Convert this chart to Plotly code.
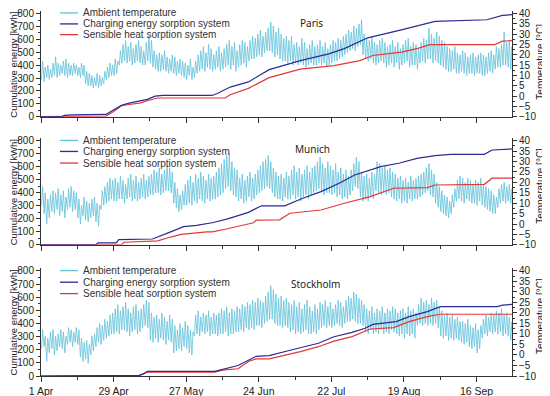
import pandas as pd
import plotly.graph_objects as go

START = pd.Timestamp("2013-04-01")

# ---------------- Data ----------------
# Daily max / min ambient temperature [°C], 1 Apr .. 30 Sep (183 days)
paris_high = [17, 14, 15, 13, 16,
              19, 16, 15, 17, 18, 16, 15,
              16, 15, 14, 16, 15,
              12, 11, 10, 9, 11, 10, 9, 12,
              14, 16, 15, 18, 17,
              22, 25, 27, 24, 26, 23, 25, 27, 24, 22,
              26, 29, 27, 22, 20,
              21, 20, 22, 19, 18, 20, 19, 17, 18, 17,
              16, 15, 18, 14, 17,
              20, 22, 24, 21, 25, 23, 20, 22, 24, 21,
              23, 25, 27, 24, 26, 22, 25, 27, 26, 24,
              27, 29, 28, 30, 32, 29, 31, 33,
              36, 34, 31, 33, 30, 28, 29,
              27, 29, 25, 26, 24, 28, 26, 23, 25, 27, 24,
              25, 27, 24, 26, 23, 25, 27, 26, 28, 27, 29,
              30, 32, 31, 34, 33, 35, 37,
              30, 28, 27, 29, 26, 25, 27, 28, 26, 24,
              25, 27, 24, 26, 23, 25, 27, 28, 24, 26, 25, 23, 26, 28, 27,
              33, 30, 28, 31, 29, 27, 26, 24,
              23, 22, 24, 21, 20, 22, 21, 19, 20, 21, 19, 20,
              21, 20, 19, 21, 22, 20,
              24, 23, 25, 31, 26, 27, 24, 22]
paris_low = [8, 7, 9, 8, 9,
             10, 9, 10, 11, 10, 9, 10,
             10, 11, 10, 9, 10,
             6, 5, 5, 4, 5, 4, 5, 6,
             8, 9, 10, 10, 11,
             15, 16, 17, 16, 17, 15, 16, 17, 16, 15,
             15, 17, 16, 14, 13,
             12, 12, 13, 12, 11, 12, 11, 10, 11, 10,
             9, 8, 10, 8, 9,
             11, 12, 13, 12, 14, 13, 12, 13, 14, 12,
             13, 14, 15, 13, 15, 12, 14, 15, 16, 14,
             17, 18, 18, 19, 20, 19, 21, 22,
             22, 21, 19, 20, 18, 17, 17,
             16, 17, 15, 16, 15, 16, 15, 14, 15, 16, 15,
             15, 16, 15, 16, 14, 15, 16, 17, 17, 18, 19,
             20, 21, 22, 23, 22, 24, 25,
             20, 18, 17, 18, 16, 15, 16, 17, 16, 14,
             15, 16, 14, 16, 13, 15, 16, 17, 14, 15, 15, 13, 16, 17, 16,
             18, 18, 16, 17, 16, 15, 14, 13,
             12, 12, 13, 11, 11, 12, 11, 10, 11, 11, 10, 11,
             11, 10, 10, 11, 12, 11,
             13, 14, 14, 15, 15, 14, 13, 12]

munich_high = [18, 15, 12, 14, 16,
               15, 17, 14, 16, 13,
               17, 18, 16, 15,
               12, 9, 13, 11, 10, 12, 13, 10, 9,
               16, 18, 20, 22, 21,
               22, 20, 23, 21, 19, 22, 24, 21, 23, 20, 22, 24, 21, 23,
               24, 26, 25, 27, 24, 26, 28, 27, 25,
               20, 17, 14, 16, 19,
               21, 23, 20, 24, 22, 25, 23, 21, 24, 22, 23,
               25, 27, 29, 31, 33, 34, 30, 27, 26,
               22, 24, 21, 23, 25, 22, 24, 26,
               28, 30, 31, 33, 30, 27, 25, 23,
               24, 22, 25, 23,
               26, 28, 25, 27, 24, 26, 28, 25, 27,
               28, 30, 32, 29, 27, 30, 28, 26, 29,
               25, 27, 24, 26, 23, 26,
               29, 32, 30,
               25, 23, 24, 22, 25, 24,
               30, 29, 27, 28, 26, 27, 25, 24,
               22, 23, 21, 22, 20, 23, 21, 22, 23, 24,
               25, 27, 29, 26, 24,
               20, 18, 16, 14, 13, 11, 14, 17,
               21, 23, 22, 20, 22, 21, 19,
               21, 20, 22, 19, 18, 17, 16, 14, 13,
               17, 19, 20, 18, 19, 17, 18]
munich_low = [9, 5, 0, 3, 6,
              5, 7, 4, 6, 3,
              7, 8, 6, 7,
              3, 0, 4, 2, 1, 3, 4, 1, -1,
              7, 9, 10, 11, 12,
              11, 11, 12, 12, 10, 12, 13, 11, 12, 11, 12, 13, 12, 13,
              14, 14, 15, 15, 14, 15, 16, 16, 15,
              10, 8, 6, 7, 9,
              9, 10, 9, 11, 10, 12, 11, 10, 12, 11, 12,
              12, 13, 14, 15, 17, 18, 16, 14, 13,
              11, 12, 10, 11, 13, 11, 12, 14,
              15, 16, 17, 18, 17, 15, 13, 12,
              12, 11, 13, 12,
              12, 14, 12, 13, 11, 13, 14, 12, 14,
              15, 16, 17, 16, 14, 15, 15, 14, 15,
              13, 14, 12, 13, 12, 14,
              16, 18, 17,
              13, 11, 12, 11, 13, 12,
              16, 15, 14, 15, 14, 15, 13, 12,
              11, 12, 10, 11, 10, 12, 11, 12, 12, 13,
              14, 15, 16, 14, 13,
              10, 8, 6, 5, 4, 3, 5, 8,
              11, 12, 11, 10, 12, 11, 10,
              10, 9, 11, 9, 8, 7, 6, 5, 5,
              8, 10, 11, 10, 11, 10, 11]

stockholm_high = [12, 9,
                  8, 11, 12, 9, 10, 12, 11, 9,
                  13, 12, 11, 13, 12,
                  8, 6, 7, 5, 9,
                  10, 13, 15, 14, 17, 16, 19, 20,
                  22, 24, 21, 23, 25, 22, 20, 23, 24, 21, 22,
                  24, 26, 25,
                  20, 18, 19, 17, 20, 18, 16, 19, 17,
                  14, 12, 15, 13, 16, 14, 12, 11,
                  19, 21, 18, 20, 19, 21, 18, 20, 19,
                  20, 22, 21, 23, 20, 22, 21, 23,
                  22, 24, 23, 25, 24, 26, 25, 27, 26, 25,
                  28, 30, 33, 31, 29, 27,
                  28, 26, 27, 25,
                  24, 26, 23, 25, 22, 24, 26, 23, 21, 24, 22, 25,
                  24, 26, 23, 25, 22, 24, 26, 25, 23,
                  26, 28, 27, 30, 29, 27, 26, 24,
                  22, 21, 23, 20, 22, 21, 23, 20, 22, 21, 23, 22, 20,
                  21, 22, 20, 23, 21, 22, 20,
                  24, 27, 25, 26, 24, 27, 25, 26, 23,
                  21, 19, 20, 18, 19, 17, 18, 16,
                  16, 15, 17, 14, 13, 15, 12, 14,
                  17, 19, 18, 20, 19, 21, 20, 22, 19, 20, 18, 16, 14]
stockholm_low = [3, 4,
                 -3, 1, 3, 0, 2, 4, 3, 1,
                 5, 6, 4, 6, 5,
                 -1, -3, -2, -4, 0,
                 2, 4, 6, 5, 7, 8, 9, 10,
                 10, 11, 10, 12, 12, 11, 9, 11, 12, 10, 11,
                 13, 14, 13,
                 7, 6, 8, 6, 8, 7, 5, 7, 6,
                 1, 2, 3, 2, 4, 3, 1, 0,
                 9, 10, 9, 11, 10, 11, 9, 10, 10,
                 9, 10, 10, 11, 9, 10, 10, 11,
                 11, 12, 11, 13, 12, 13, 12, 14, 14, 13,
                 15, 16, 17, 17, 15, 14,
                 14, 13, 14, 13,
                 11, 12, 10, 11, 10, 11, 12, 10, 10, 11, 10, 12,
                 13, 14, 13, 14, 13, 14, 15, 14, 13,
                 15, 16, 16, 17, 16, 15, 15, 14,
                 11, 10, 12, 10, 11, 10, 12, 10, 11, 10, 12, 11, 10,
                 9, 10, 8, 10, 9, 10, 8,
                 14, 15, 14, 15, 14, 15, 14, 15, 13,
                 9, 8, 9, 7, 8, 7, 8, 7,
                 6, 5, 6, 4, 3, 4, 1, 3,
                 8, 10, 9, 11, 10, 11, 10, 11, 9, 10, 9, 7, 5]

# Cumulative energy [kWh]: day index since 1 Apr and value
paris_charge_day = [0, 8, 9, 12, 25, 28, 31, 34, 38, 41, 44, 47, 66, 68, 73, 80, 85, 88,
                    100, 111, 117, 126, 139, 152, 172, 178, 181.7]
paris_charge_kwh = [0, 0, 10, 15, 18, 50, 88, 105, 120, 135, 160, 165, 165, 180, 230, 270, 330, 365,
                    435, 488, 528, 612, 673, 739, 752, 786, 792]
paris_sens_day = [0, 8, 9, 25, 28, 31, 34, 38, 42, 45, 71, 73, 80, 84, 88,
                  100, 113, 123, 128, 139, 145, 150, 175, 178, 181.7]
paris_sens_kwh = [0, 0, 3, 5, 40, 85, 95, 105, 130, 145, 145, 170, 220, 260, 303,
                  369, 396, 435, 475, 501, 528, 559, 559, 586, 590]

munich_charge_day = [0, 21, 22, 29, 30, 43, 50, 55, 60, 66, 72, 80, 85, 94,
                     101, 108, 115, 121, 131, 138, 145, 152, 158, 171, 174, 181.7]
munich_charge_kwh = [0, 0, 15, 15, 40, 45, 100, 140, 150, 170, 200, 250, 300, 300,
                     358, 409, 473, 537, 601, 627, 665, 685, 696, 696, 729, 737]
munich_sens_day = [0, 31, 32, 45, 50, 54, 64, 66, 71, 77, 82, 83, 92, 96,
                   108, 117, 127, 136, 149, 152, 171, 174, 181.7]
munich_sens_kwh = [0, 0, 20, 30, 60, 80, 100, 100, 120, 150, 170, 190, 192, 243,
                   268, 320, 371, 435, 440, 460, 465, 512, 512]

stockholm_charge_day = [0, 29, 38, 40, 41, 67, 70, 73, 76, 80, 83, 88, 92, 96.5,
                        107, 113, 120, 125, 128, 137, 142, 149, 154, 176, 178, 181.7]
stockholm_charge_kwh = [0, 0, 5, 20, 35, 35, 50, 70, 80, 120, 150, 155, 173, 198,
                        249, 299, 332, 363, 393, 414, 452, 490, 528, 528, 540, 545]
stockholm_sens_day = [0, 29, 38, 41, 67, 70, 76, 80, 83, 88, 92, 100,
                      107, 113, 120, 127, 136, 142, 149, 154, 181.7]
stockholm_sens_kwh = [0, 0, 5, 30, 30, 45, 55, 110, 130, 130, 147, 185,
                      223, 266, 300, 358, 368, 414, 452, 470, 470]

cities = ["Paris", "Munich", "Stockholm"]
legend_names = ["Ambient temperature", "Charging energy sorption system",
                "Sensible heat sorption system"]
energy_ticks = list(range(0, 801, 100))
temp_ticks = list(range(-10, 41, 5))
date_ticks = ["2013-04-01", "2013-04-29", "2013-05-27", "2013-06-24",
              "2013-07-22", "2013-08-19", "2013-09-16"]
date_labels = ["1 Apr", "29 Apr", "27 May", "24 Jun", "22 Jul", "19 Aug", "16 Sep"]

# ---------------- Styling ----------------
C_TEMP = "#62c2da"
C_BLUE = "#2b2b95"
C_RED = "#e0393b"
AX = "#333333"
FONT = "Liberation Sans, Arial, sans-serif"

# the page body adds an 8 px offset; positions below are in window pixels
OFF = 8
W, H = 550 - OFF, 396 - OFF
ML, MR = 41 - OFF, W - (512 - OFF)
MT, MB = 11.4 - OFF, H - (376 - OFF)
PW, PH = W - ML - MR, H - MT - MB


def fy(py):
    return (H - MB - (py - OFF)) / PH


def fx(px):
    return (px - OFF - ML) / PW


# panel pixel extents (top, bottom) in window pixels
panel_px = [(11.4, 117), (138.4, 245), (268.4, 376)]
legend_rows = [(13.3, 24.3, 35.0), (140.7, 151.7, 163.3), (270.7, 282.3, 293.7)]
city_px = [(311, 23.5), (312.5, 149), (315, 284)]
left_title_y = [65.5, 193, 323]
right_title_y = [62, 186, 316]


def temp_series(high, low):
    t, v = [], []
    for d, (h, l) in enumerate(zip(high, low)):
        t.append(START + pd.Timedelta(hours=24 * d + 5))
        v.append(l)
        t.append(START + pd.Timedelta(hours=24 * d + 15))
        v.append(h)
    return t, v


def day_dates(days):
    return [START + pd.Timedelta(hours=24 * d) for d in days]


data = [
    (paris_high, paris_low, paris_charge_day, paris_charge_kwh, paris_sens_day, paris_sens_kwh),
    (munich_high, munich_low, munich_charge_day, munich_charge_kwh, munich_sens_day, munich_sens_kwh),
    (stockholm_high, stockholm_low, stockholm_charge_day, stockholm_charge_kwh,
     stockholm_sens_day, stockholm_sens_kwh),
]

fig = go.Figure()
layout = dict(
    width=W, height=H,
    margin=dict(l=ML, r=MR, t=MT, b=MB, autoexpand=False),
    paper_bgcolor="white", plot_bgcolor="white",
    showlegend=False,
    font=dict(family=FONT, size=10, color="#222222"),
)
shapes, annos = [], []

x_range = [START, START + pd.Timedelta(hours=24 * 181 + 16)]

for i, (hi, lo, cd, ck, sd, sk) in enumerate(data):
    n = i + 1
    xa = "x" if n == 1 else f"x{n}"
    ya_t = "y" if n == 1 else f"y{2 * n - 1}"
    ya_e = f"y{2 * n}"
    xkey = "xaxis" if n == 1 else f"xaxis{n}"
    ykey_t = "yaxis" if n == 1 else f"yaxis{2 * n - 1}"
    ykey_e = f"yaxis{2 * n}"

    tt, tv = temp_series(hi, lo)
    fig.add_trace(go.Scatter(x=tt, y=tv, xaxis=xa, yaxis=ya_t, mode="lines",
                             line=dict(color=C_TEMP, width=0.8), name=legend_names[0],
                             hoverinfo="skip"))
    fig.add_trace(go.Scatter(x=day_dates(sd), y=sk, xaxis=xa, yaxis=ya_e, mode="lines",
                             line=dict(color=C_RED, width=1.2), name=legend_names[2]))
    fig.add_trace(go.Scatter(x=day_dates(cd), y=ck, xaxis=xa, yaxis=ya_e, mode="lines",
                             line=dict(color=C_BLUE, width=1.2), name=legend_names[1]))

    top, bot = panel_px[i]
    dom = [fy(bot), fy(top)]
    layout[xkey] = dict(
        anchor=ya_t, domain=[0, 1], range=x_range, type="date", automargin=False,
        tickmode="array", tickvals=date_ticks, ticktext=date_labels,
        showticklabels=(n == 3), ticks="outside", ticklen=5, tickcolor=AX,
        minor=dict(tickmode="array",
                   tickvals=[str((pd.Timestamp(d) + pd.Timedelta(days=14)).date()) for d in date_ticks],
                   ticks="outside", ticklen=3, tickcolor=AX),
        showline=True, linecolor=AX, linewidth=1, showgrid=False, zeroline=False,
        tickfont=dict(size=10.5, color="#222222"),
    )
    layout[ykey_t] = dict(
        domain=dom, anchor=xa, side="right", range=[-10, 41.25], automargin=False,
        tickmode="array", tickvals=temp_ticks, ticks="outside", ticklen=4, tickcolor=AX,
        minor=dict(dtick=2.5, tick0=-10, ticks="outside", ticklen=2, tickcolor=AX),
        showline=True, linecolor=AX, linewidth=1, showgrid=False, zeroline=False,
        tickfont=dict(size=10, color="#222222"),
    )
    layout[ykey_e] = dict(
        overlaying=ya_t, anchor=xa, side="left", range=[0, 820], automargin=False,
        tickmode="array", tickvals=energy_ticks, ticks="outside", ticklen=4, tickcolor=AX,
        minor=dict(dtick=50, tick0=0, ticks="outside", ticklen=2, tickcolor=AX),
        showline=True, linecolor=AX, linewidth=1, showgrid=False, zeroline=False,
        tickfont=dict(size=10, color="#222222"),
    )

    # axis titles
    annos.append(dict(xref="paper", yref="paper", x=fx(13.5), y=fy(left_title_y[i]),
                      xanchor="center", yanchor="middle", showarrow=False, textangle=-90,
                      text="Cumulative energy [kWh]", font=dict(size=9.5, color="#222222")))
    annos.append(dict(xref="paper", yref="paper", x=fx(541), y=fy(right_title_y[i]),
                      xanchor="center", yanchor="middle", showarrow=False, textangle=-90,
                      text="Temperature [°C]", font=dict(size=10, color="#222222")))

    # compact legend drawn as line samples + text labels
    for name, col, ry in zip(legend_names, [C_TEMP, C_BLUE, C_RED], legend_rows[i]):
        shapes.append(dict(type="line", xref="paper", yref="paper",
                           x0=fx(60), x1=fx(78), y0=fy(ry), y1=fy(ry),
                           line=dict(color=col, width=1.3)))
        annos.append(dict(xref="paper", yref="paper", x=fx(81), y=fy(ry),
                          xanchor="left", yanchor="middle", showarrow=False,
                          text=name, font=dict(size=10, color="#333333", family=FONT)))
    # city label
    cx, cy = city_px[i]
    annos.append(dict(xref="paper", yref="paper", x=fx(cx), y=fy(cy),
                      xanchor="center", yanchor="middle", showarrow=False,
                      text=cities[i], font=dict(size=10, color="#222222", family="Noto Sans")))

layout["shapes"] = shapes
layout["annotations"] = annos
fig.update_layout(**layout)
fig.write_html("out.html")
